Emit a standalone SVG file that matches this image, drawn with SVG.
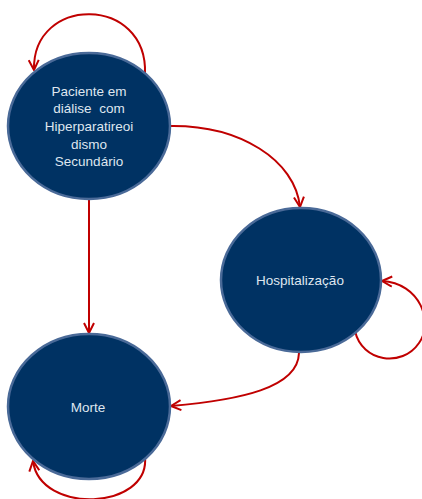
<svg xmlns="http://www.w3.org/2000/svg" width="422" height="499" viewBox="0 0 422 499">
<style>
.node{fill:#003263;stroke:#4a6a98;stroke-width:2.5}
.lbl{font-family:"Liberation Sans",Arial,sans-serif;font-size:13.5px;fill:#dfe6ef;text-anchor:middle;white-space:pre}
.edge{fill:none;stroke:#c00000;stroke-width:2}
</style>
<defs>
<marker id="arr" viewBox="0 0 12 12" refX="11" refY="6" markerWidth="12" markerHeight="12" markerUnits="userSpaceOnUse" orient="auto">
<path d="M1,1 L11,6 L1,11" fill="none" stroke="#c00000" stroke-width="2"/>
</marker>
</defs>
<g id="connectors">
<path class="edge" marker-end="url(#arr)" d="M145,74 C148,-5 32,-5 34,70"/>
<path class="edge" marker-end="url(#arr)" d="M170,126 C240,125 295,160 300,207"/>
<path class="edge" marker-end="url(#arr)" d="M89,199 L89,333"/>
<path class="edge" marker-end="url(#arr)" d="M299,353 C298,388 240,400 171,406"/>
<path class="edge" marker-end="url(#arr)" d="M355,331 C362,362 402,368 419,343 C434,322 420,283 382,281"/>
<path class="edge" marker-end="url(#arr)" d="M145,457 C150,510 40,515 33,461"/>
</g>
<g id="paciente">
<ellipse class="node" cx="89" cy="126" rx="81" ry="73"/>
<text class="lbl" x="89" y="95.5">Paciente em</text>
<text class="lbl" x="89" y="113">diálise  com</text>
<text class="lbl" x="89" y="131">Hiperparatireoi</text>
<text class="lbl" x="89" y="148.5">dismo</text>
<text class="lbl" x="89" y="166">Secundário</text>
</g>
<g id="hospitalizacao">
<ellipse class="node" cx="301" cy="280" rx="80" ry="72"/>
<text class="lbl" x="300" y="285">Hospitalização</text>
</g>
<g id="morte">
<ellipse class="node" cx="89" cy="406.5" rx="81" ry="72.5"/>
<text class="lbl" x="88" y="412">Morte</text>
</g>
</svg>
